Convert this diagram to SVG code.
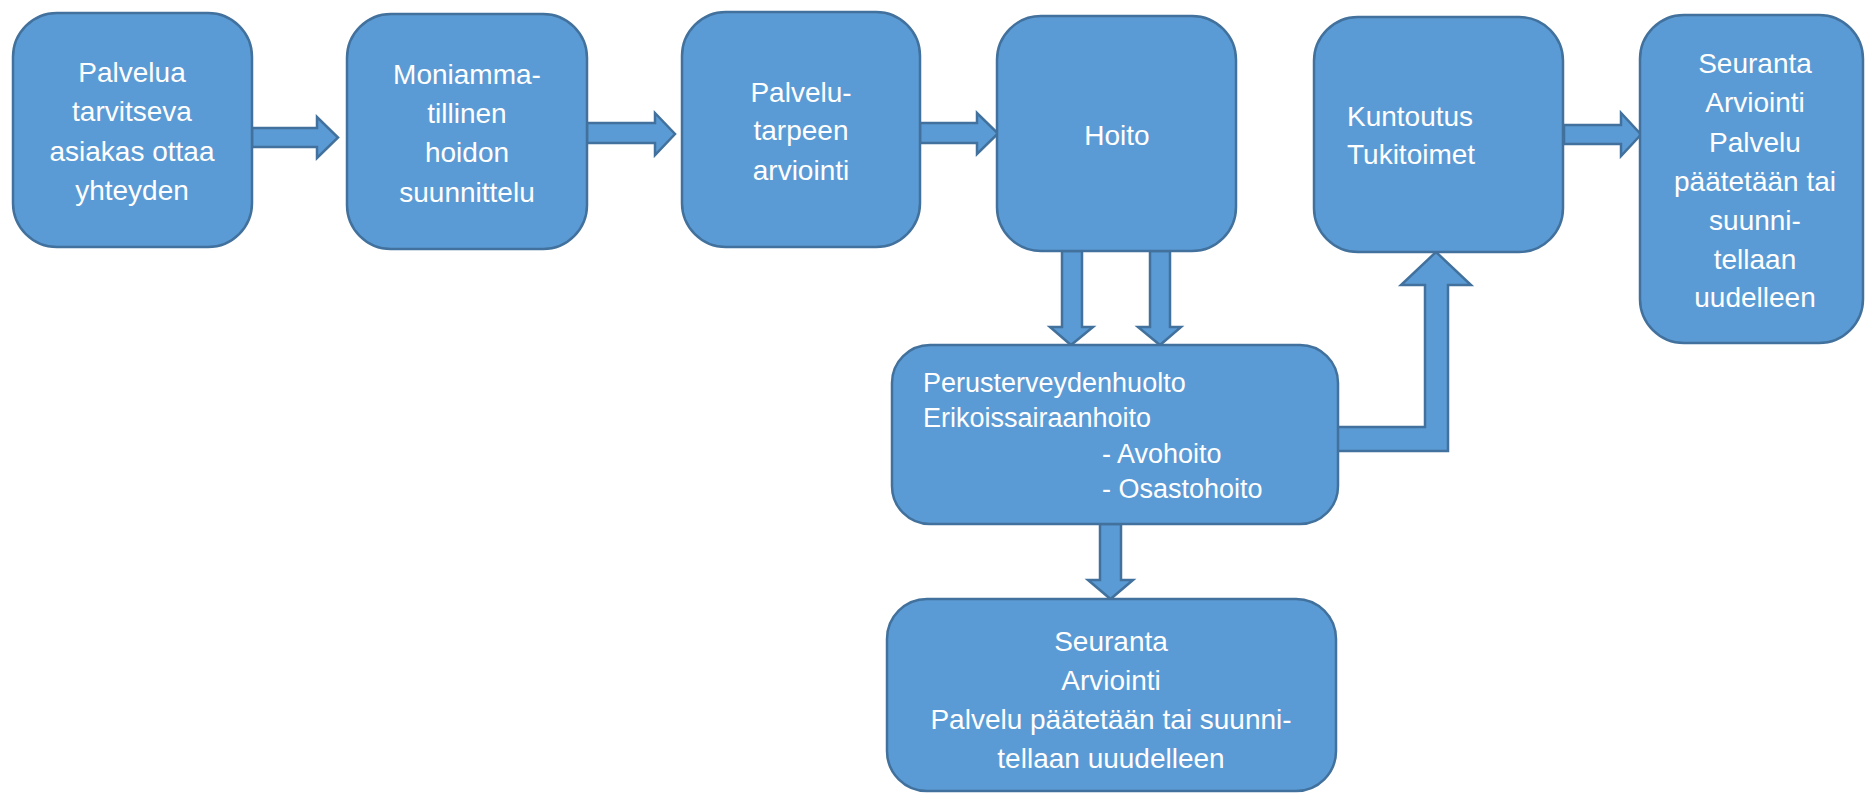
<svg xmlns="http://www.w3.org/2000/svg" width="1866" height="793" viewBox="0 0 1866 793">
<style>
.box{fill:#5B9BD5;stroke:#41719C;stroke-width:2.5}
.arr{fill:#5B9BD5;stroke:#41719C;stroke-width:2.5;stroke-linejoin:miter}
text{font-family:"Liberation Sans",Arial,sans-serif;fill:#FFFFFF;font-size:28px}
.c{text-anchor:middle}
.s{font-size:27px}
</style>
<rect width="1866" height="793" fill="#FFFFFF"/>
<g id="connectors">
<polygon class="arr" points="252,128 317,128 317,117 338,137.5 317,158 317,147 252,147"/>
<polygon class="arr" points="587,123 655,123 655,113 675,134 655,155 655,143 587,143"/>
<polygon class="arr" points="920,123 977,123 977,113 998,133.5 977,154 977,143 920,143"/>
<polygon class="arr" points="1564,125 1621,125 1621,113 1641,134.5 1621,156 1621,144 1564,144"/>
<polygon class="arr" points="1062,251 1082,251 1082,327 1093,327 1071,345 1050,327 1062,327"/>
<polygon class="arr" points="1150,251 1170,251 1170,327 1181,327 1160,345 1138,327 1150,327"/>
<polygon class="arr" points="1100,524 1121,524 1121,580 1133,580 1110.5,599 1088,580 1100,580"/>
<polygon class="arr" points="1337,427 1425,427 1425,285 1401,285 1436,252 1471,285 1448,285 1448,451 1337,451"/>
</g>
<g id="n1">
<rect class="box" x="13" y="13" width="239" height="234" rx="44"/>
<text class="c" x="132" y="82">Palvelua</text>
<text class="c" x="132" y="121">tarvitseva</text>
<text class="c" x="132" y="161">asiakas ottaa</text>
<text class="c" x="132" y="200">yhteyden</text>
</g>
<g id="n2">
<rect class="box" x="347" y="14" width="240" height="235" rx="44"/>
<text class="c" x="467" y="84">Moniamma-</text>
<text class="c" x="467" y="123">tillinen</text>
<text class="c" x="467" y="162">hoidon</text>
<text class="c" x="467" y="202">suunnittelu</text>
</g>
<g id="n3">
<rect class="box" x="682" y="12" width="238" height="235" rx="44"/>
<text class="c" x="801" y="102">Palvelu-</text>
<text class="c" x="801" y="140">tarpeen</text>
<text class="c" x="801" y="180">arviointi</text>
</g>
<g id="n4">
<rect class="box" x="997" y="16" width="239" height="235" rx="44"/>
<text class="c" x="1117" y="145">Hoito</text>
</g>
<g id="n5">
<rect class="box" x="1314" y="17" width="249" height="235" rx="44"/>
<text x="1347" y="126">Kuntoutus</text>
<text x="1347" y="164">Tukitoimet</text>
</g>
<g id="n6">
<rect class="box" x="1640" y="15" width="223" height="328" rx="44"/>
<text class="c" x="1755" y="73">Seuranta</text>
<text class="c" x="1755" y="112">Arviointi</text>
<text class="c" x="1755" y="152">Palvelu</text>
<text class="c" x="1755" y="191">päätetään tai</text>
<text class="c" x="1755" y="230">suunni-</text>
<text class="c" x="1755" y="269">tellaan</text>
<text class="c" x="1755" y="307">uudelleen</text>
</g>
<g id="n7">
<rect class="box" x="892" y="345" width="446" height="179" rx="38"/>
<text class="s" x="923" y="392">Perusterveydenhuolto</text>
<text class="s" x="923" y="427">Erikoissairaanhoito</text>
<text class="s" x="1102" y="463">- Avohoito</text>
<text class="s" x="1102" y="498">- Osastohoito</text>
</g>
<g id="n8">
<rect class="box" x="887" y="599" width="449" height="192" rx="40"/>
<text class="c" x="1111" y="651">Seuranta</text>
<text class="c" x="1111" y="690">Arviointi</text>
<text class="c" x="1111" y="729">Palvelu päätetään tai suunni-</text>
<text class="c" x="1111" y="768">tellaan uuudelleen</text>
</g>
</svg>
